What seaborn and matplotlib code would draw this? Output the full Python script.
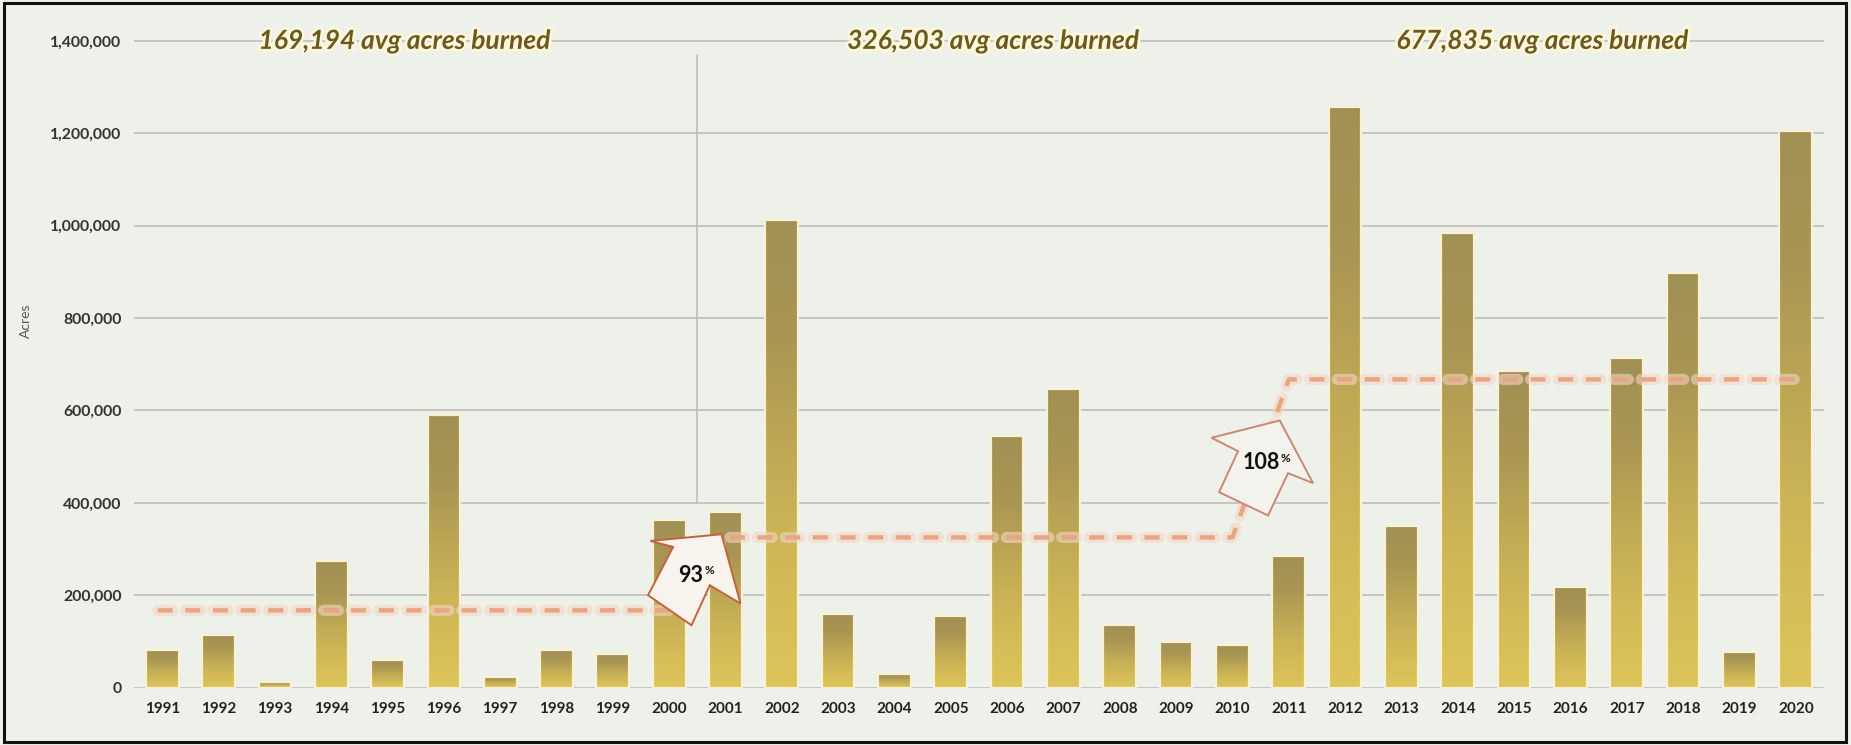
import numpy as np
import pandas as pd
import matplotlib
matplotlib.use("Agg")
import matplotlib.pyplot as plt
import seaborn as sns
from matplotlib.colors import LinearSegmentedColormap
from matplotlib.patches import Polygon, Rectangle
from matplotlib.transforms import Affine2D, ScaledTranslation
import matplotlib.patheffects as pe
from matplotlib.ticker import StrMethodFormatter

# ---------------- data ----------------
years = ["1991", "1992", "1993", "1994", "1995", "1996", "1997", "1998", "1999", "2000",
         "2001", "2002", "2003", "2004", "2005", "2006", "2007", "2008", "2009", "2010",
         "2011", "2012", "2013", "2014", "2015", "2016", "2017", "2018", "2019", "2020"]
acres = [81000, 115000, 13000, 274000, 60000, 590000, 24000, 81000, 73000, 364000,
         381000, 1012000, 159000, 29000, 155000, 544000, 647000, 135000, 99000, 92000,
         284000, 1256000, 351000, 984000, 685000, 218000, 713000, 898000, 78000, 1206000]
period_starts = [0, 10, 20]
period_len = 10
period_labels = ["169,194 avg acres burned", "326,503 avg acres burned", "677,835 avg acres burned"]
change_labels = ["93", "108"]
y_ticks = [0, 200000, 400000, 600000, 800000, 1000000, 1200000, 1400000]
y_axis_label = "Acres"

# ---------------- style ----------------
sns.set_theme(style="white")
plt.rcParams['font.family'] = ['Lato', 'DejaVu Sans']
plt.rcParams['lines.scale_dashes'] = False

BG = '#EEF1EA'
GRID = '#BDBDBD'
fig = plt.figure(figsize=(18.51, 7.45), dpi=100, facecolor=BG)
ax = fig.add_axes([0.0724, 0.0769, 0.9130, 0.8701])
ax.set_facecolor(BG)

df = pd.DataFrame({"year": years, "acres": acres})
sns.barplot(data=df, x="year", y="acres", width=0.58, color="#C8AF55",
            ax=ax, zorder=3, saturation=1)

# gradient fill for each bar
cmap = LinearSegmentedColormap.from_list(
    "gold", ["#DDC55A", "#D2B957", "#BFA955", "#A99653", "#A19055"])
grad = np.linspace(0, 1, 256).reshape(-1, 1)
for p in ax.patches:
    x0, w, h = p.get_x(), p.get_width(), p.get_height()
    ax.imshow(grad, extent=[x0, x0 + w, 0, h], origin='lower', cmap=cmap,
              aspect='auto', zorder=3, interpolation='bicubic')
    p.set_facecolor('none')
    p.set_edgecolor('#FAF1D4')
    p.set_linewidth(1.6)
    p.set_zorder(3.5)

ax.set_xlim(-0.5, len(years) - 0.5)
ax.set_ylim(0, 1403000)
ax.set_yticks(y_ticks)
ax.yaxis.set_major_formatter(StrMethodFormatter('{x:,.0f}'))
ax.yaxis.grid(True, color=GRID, lw=1.2, zorder=0)
ax.xaxis.grid(False)
ax.set_axisbelow(True)
for s in ax.spines.values():
    s.set_visible(False)
ax.set_xlabel('')
ax.set_ylabel('')
ax.tick_params(axis='x', length=0, pad=10, labelsize=11, labelcolor='#222222')
ax.tick_params(axis='y', length=0, pad=9, labelsize=11.3, labelcolor='#333333')
for lbl in ax.get_xticklabels() + ax.get_yticklabels():
    lbl.set_fontweight('bold')

# separator line between 2000 and 2001
ax.plot([9.5, 9.5], [400000, 1370000], color=GRID, lw=1.2, zorder=1)

# average step line
means = [float(np.mean(acres[s:s + period_len])) for s in period_starts]
lx = [-0.08, 9, 10, 19, 20, 29]
ly = [means[0], means[0], means[1], means[1], means[2], means[2]]
dash = (0, (10.8, 9.1))
ax.plot(lx, ly, color='#F4D6C4', lw=8, alpha=0.6, ls=dash, zorder=5,
        dash_capstyle='round')
ax.plot(lx, ly, color='#E6A683', lw=3.2, ls=dash, zorder=6)

# period labels along the top
label_x = [4.3, 14.75, 24.5]
for lx_, txt in zip(label_x, period_labels):
    ax.text(lx_, 1400000, txt, ha='center', va='center', fontsize=19,
            fontweight='bold', fontstyle='italic', color='#6A5A1F', zorder=8,
            clip_on=False,
            path_effects=[pe.withStroke(linewidth=4, foreground='#FFF7DC')])

# block arrows (shape in pixels, anchored in data coords)
arrow_shapes = [
    [(26.7, 46), (-44.3, 39.3), (-21.7, 33.3), (-46.7, -15), (-3.3, -45), (15, -5), (45.7, -23.3)],
    [(18, 48), (-50.3, 30.7), (-23.7, 17.3), (-42.7, -23.7), (6.3, -47), (26.3, -4.7), (51.3, -14.7)],
]
arrow_anchor = [(9.455, 232600), (19.52, 474500)]
arrow_face = ['#F8F3EC', '#F3F2EC']
arrow_edge = ['#C0643E', '#C98872']
num_off = [(-3.7, 4.3), (-0.7, 5.5)]
pct_off = [(9.5, 9.5), (18.5, 10.0)]
for shape, (axx, axy), fc, ec, txt, no, po in zip(arrow_shapes, arrow_anchor, arrow_face,
                                                  arrow_edge, change_labels, num_off, pct_off):
    base = ScaledTranslation(axx, axy, ax.transData)
    poly = Polygon(shape, closed=True, transform=Affine2D() + base,
                   facecolor=fc, edgecolor=ec, lw=1.4, zorder=7, clip_on=False)
    ax.add_patch(poly)
    ax.text(0, 0, txt, transform=Affine2D().translate(*no) + base, ha='center',
            va='center', fontsize=15.5, fontweight='bold', color='#111111', zorder=8)
    ax.text(0, 0, '%', transform=Affine2D().translate(*po) + base, ha='left',
            va='center', fontsize=8.5, fontweight='bold', color='#111111', zorder=8)

# y axis label
fig.text(26 / 1851, 1 - 321 / 745, y_axis_label, rotation=90, ha='center', va='center',
         color='#555555', fontsize=10)

# outer black frame
fig.patches.append(Rectangle((4 / 1851, 3 / 745), 1842 / 1851, 739 / 745,
                             transform=fig.transFigure, fill=False,
                             edgecolor='#111111', lw=2.2))

fig.savefig('out.png', dpi=100, facecolor=BG)
